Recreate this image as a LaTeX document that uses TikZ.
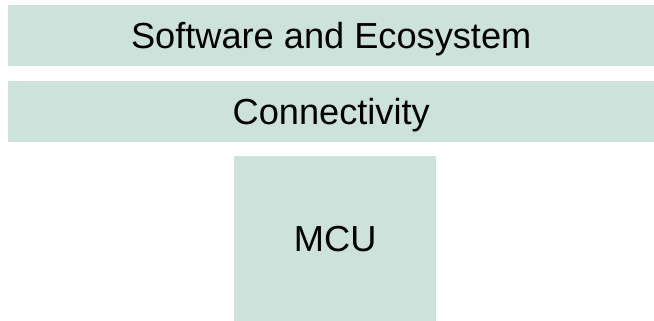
\documentclass[tikz,border=0pt]{standalone}
\usepackage{fontspec}
\setmainfont{Liberation Sans}
\usepackage{xcolor}
\usetikzlibrary{positioning}
\definecolor{LayerColor}{RGB}{205,226,218}
\tikzset{
  layerbox/.style={fill=LayerColor, draw=none, inner sep=0pt, anchor=north west,
    text height=26pt, text depth=0pt, font=\fontsize{36.2pt}{40pt}\selectfont},
}

\begin{document}
\begin{tikzpicture}[x=1pt, y=1pt]
  \useasboundingbox (0,0) rectangle (654,321);
  \node[layerbox, minimum width=646pt, minimum height=61pt] (eco) at (8,316) {Software and Ecosystem};
  \node[layerbox, minimum width=646pt, minimum height=61pt] (conn) at (8,240) {Connectivity};
  \node[layerbox, minimum width=202pt, minimum height=165pt] (mcu) at (234,165) {MCU};
\end{tikzpicture}
\end{document}
